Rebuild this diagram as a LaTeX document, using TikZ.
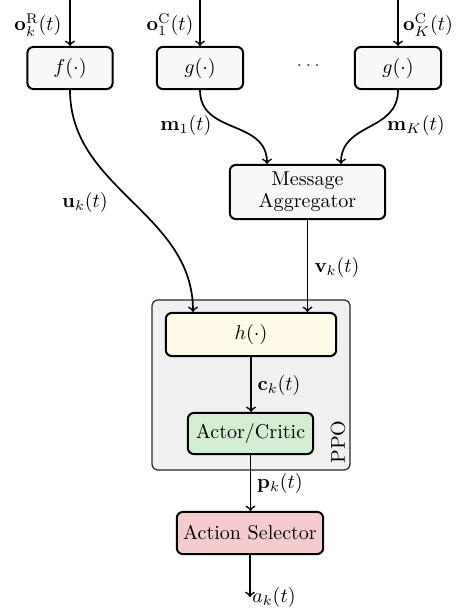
\documentclass[tikz,border=0pt]{standalone}
\usepackage{amsmath}

\definecolor{boxgray}{RGB}{248,248,248}
\definecolor{ppogray}{RGB}{240,240,240}
\definecolor{ppoline}{RGB}{40,40,40}
\definecolor{hyellow}{RGB}{255,251,232}
\definecolor{acgreen}{RGB}{212,236,210}
\definecolor{aspink}{RGB}{245,203,205}

\tikzset{every picture/.style={line width=0.75pt}}
\tikzset{
  blockbox/.style={draw, line width=1pt, rounded corners=3pt, fill=boxgray, align=center, inner sep=1pt},
  flowline/.style={->, line width=0.85pt},
  sigtext/.style={inner sep=0.75pt}
}

\begin{document}
\begin{tikzpicture}[x=0.75pt,y=0.75pt,yscale=-0.665,xscale=0.665]
\useasboundingbox (0,0) rectangle (459,610);

%Shape: Rectangle [id:ppo]
\draw [draw=ppoline, fill=ppogray, rounded corners=3pt, line width=0.6pt] (152,300) rectangle (350,470) ;
% Text Node
\node [sigtext, rotate=90] (ppolabel) at (338,442) {PPO};

%Shape: Rectangle [id:f]
\node [blockbox, minimum width=42.5pt, minimum height=21pt] (f) at (70,68) {$f(\cdot)$};
%Shape: Rectangle [id:g1]
\node [blockbox, minimum width=43pt, minimum height=21pt] (g1) at (200,68) {$g(\cdot)$};
%Shape: Rectangle [id:gK]
\node [blockbox, minimum width=43pt, minimum height=21pt] (gK) at (398,68) {$g(\cdot)$};
% Text Node
\node [sigtext, text=black!70] (dots) at (310,66) {$\cdots$};
%Shape: Rectangle [id:agg]
\node [blockbox, minimum width=77.5pt, minimum height=27pt] (agg) at (307.5,192) {Message\\[-1pt]Aggregator};
%Shape: Rectangle [id:h]
\node [blockbox, fill=hyellow, minimum width=85pt, minimum height=21.5pt] (h) at (251,334.5) {$h(\cdot)$};
%Shape: Rectangle [id:ac]
\node [blockbox, fill=acgreen, minimum width=62.5pt, minimum height=20.5pt] (ac) at (250.5,433.5) {Actor/Critic};
%Shape: Rectangle [id:sel]
\node [blockbox, fill=aspink, minimum width=73pt, minimum height=21pt] (sel) at (250,533) {Action Selector};

% inputs
\coordinate (inR) at (70,0);
\coordinate (in1) at (200,0);
\coordinate (inK) at (398,0);
\coordinate (out) at (250,597);

%Straight Lines
\draw [flowline] (inR) -- (f.north) ;
\draw [flowline] (in1) -- (g1.north) ;
\draw [flowline] (inK) -- (gK.north) ;
%Curve Lines
\draw [flowline] (g1.south) to[out=90,in=-90,looseness=1.15] (agg.north -| 267,0) ;
\draw [flowline] (gK.south) to[out=90,in=-90,looseness=1.15] (agg.north -| 341,0) ;
\draw [flowline] (f.south) to[out=90,in=-90] (h.north -| 193,0) ;
%Straight Lines
\draw [flowline] (agg.south) -- (agg.south |- h.north) ;
\draw [flowline] (h.south) -- (h.south |- ac.north) ;
\draw [flowline] (ac.south) -- (ac.south |- sel.north) ;
\draw [flowline] (sel.south) -- (out) ;

% Text Node
\node [sigtext] (oR) at (38,25) {$\mathbf{o}_k^{\mathrm{R}}(t)$};
% Text Node
\node [sigtext] (o1) at (170,25) {$\mathbf{o}_1^{\mathrm{C}}(t)$};
% Text Node
\node [sigtext] (oK) at (428,25) {$\mathbf{o}_K^{\mathrm{C}}(t)$};
% Text Node
\node [sigtext] (m1) at (186,125) {$\mathbf{m}_1(t)$};
% Text Node
\node [sigtext] (mK) at (416,125) {$\mathbf{m}_K(t)$};
% Text Node
\node [sigtext] (uk) at (85,202) {$\mathbf{u}_k(t)$};
% Text Node
\node [sigtext] (vk) at (337,267) {$\mathbf{v}_k(t)$};
% Text Node
\node [sigtext] (ck) at (279,385) {$\mathbf{c}_k(t)$};
% Text Node
\node [sigtext] (pk) at (280,483) {$\mathbf{p}_k(t)$};
% Text Node
\node [sigtext, anchor=west] (ak) at (out) {$a_k(t)$};

\end{tikzpicture}
\end{document}
